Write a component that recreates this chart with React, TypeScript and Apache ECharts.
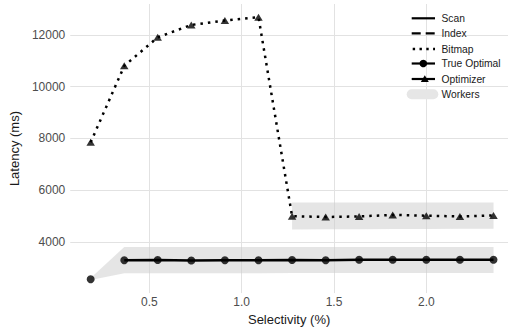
import React, { useEffect, useRef } from "react";
import * as echarts from "echarts";

// Selectivity (%) positions
const selectivity = [0.182, 0.364, 0.545, 0.727, 0.909, 1.091, 1.273, 1.455, 1.636, 1.818, 2.0, 2.182, 2.364];
// True optimal latency (ms)
const trueOptimal = [2570, 3300, 3310, 3290, 3300, 3300, 3310, 3300, 3320, 3320, 3320, 3320, 3320];
// Scan latency (ms) – no scan value at the first selectivity
const scanLatency: (number | null)[] = [null, 3300, 3310, 3290, 3300, 3300, 3310, 3300, 3320, 3320, 3320, 3320, 3320];
// Bitmap latency (ms) = optimizer choice
const bitmapLatency = [7850, 10800, 11900, 12380, 12550, 12680, 5000, 4970, 4990, 5050, 5020, 4990, 5030];
const optimizerLatency = [7850, 10800, 11900, 12380, 12550, 12680, 5000, 4970, 4990, 5050, 5020, 4990, 5030];
// Workers band around scan
const scanBandLow = [2540, 2800, 2800, 2800, 2800, 2800, 2805, 2805, 2805, 2810, 2810, 2810, 2810];
const scanBandHigh = [2620, 3810, 3810, 3810, 3810, 3810, 3810, 3810, 3810, 3810, 3810, 3810, 3810];
// Workers band around bitmap (from selectivity index 6)
const bitmapBandX = [1.273, 1.455, 1.636, 1.818, 2.0, 2.182, 2.364];
const bitmapBandLow = [4490, 4495, 4500, 4505, 4510, 4515, 4520];
const bitmapBandHigh = [5530, 5530, 5530, 5530, 5530, 5530, 5530];

const legendLabels = ["Scan", "Index", "Bitmap", "True Optimal", "Optimizer", "Workers"];

const FONT = "'Liberation Sans', Arial, sans-serif";

export default function App() {
  const ref = useRef<HTMLDivElement>(null);

  useEffect(() => {
    if (!ref.current) return;
    const chart = echarts.init(ref.current, null, { renderer: "svg" });

    const bands = [
      { x: selectivity, lo: scanBandLow, hi: scanBandHigh },
      { x: bitmapBandX, lo: bitmapBandLow, hi: bitmapBandHigh },
    ];

    const scanData = selectivity
      .map((x, i) => [x, scanLatency[i]])
      .filter((p) => p[1] !== null);

    const rowsY = [18.3, 33.3, 49, 63.5, 79, 94.3];
    const keyX1 = 411.7;
    const keyX2 = 435;
    const keyCx = 423.3;
    const textX = 441.5;

    const legendGraphics: any[] = [];
    const solidLine = (y: number) => ({
      type: "line",
      z: 100,
      shape: { x1: keyX1, y1: y, x2: keyX2, y2: y },
      style: { stroke: "#000", lineWidth: 2.2, lineDash: null },
    });
    legendGraphics.push(solidLine(rowsY[0]));
    legendGraphics.push({
      type: "line",
      z: 100,
      shape: { x1: keyX1, y1: rowsY[1], x2: keyX2, y2: rowsY[1] },
      style: { stroke: "#000", lineWidth: 2.2, lineDash: [9, 5] },
    });
    legendGraphics.push({
      type: "line",
      z: 100,
      shape: { x1: keyX1 + 1, y1: rowsY[2], x2: keyX2, y2: rowsY[2] },
      style: { stroke: "#000", lineWidth: 2.4, lineDash: [2.4, 4.4] },
    });
    legendGraphics.push(solidLine(rowsY[3]));
    legendGraphics.push({
      type: "circle",
      z: 101,
      shape: { cx: keyCx, cy: rowsY[3], r: 3.8 },
      style: { fill: "#000" },
    });
    legendGraphics.push(solidLine(rowsY[4]));
    legendGraphics.push({
      type: "polygon",
      z: 101,
      shape: {
        points: [
          [keyCx + 1.5, rowsY[4] - 3.8],
          [keyCx + 1.5 + 4, rowsY[4] + 3],
          [keyCx + 1.5 - 4, rowsY[4] + 3],
        ],
      },
      style: { fill: "#000" },
    });
    legendGraphics.push({
      type: "rect",
      z: 100,
      shape: { x: 406.7, y: rowsY[5] - 5, width: 31.6, height: 10, r: 5 },
      style: { fill: "#e6e6e6" },
    });
    legendLabels.forEach((lab, i) => {
      legendGraphics.push({
        type: "text",
        z: 100,
        x: textX,
        y: rowsY[i],
        style: {
          text: lab,
          fill: "#1a1a1a",
          font: `10.3px ${FONT}`,
          textVerticalAlign: "middle",
          textAlign: "left",
        },
      });
    });

    chart.setOption({
      animation: false,
      backgroundColor: "#ffffff",
      textStyle: { fontFamily: FONT },
      grid: { left: 67, right: 3, top: 4, bottom: 35, containLabel: false },
      xAxis: {
        type: "value",
        min: 0.0715,
        max: 2.4425,
        name: "Selectivity (%)",
        nameLocation: "middle",
        nameGap: 16,
        nameTextStyle: { fontSize: 13, color: "#1a1a1a", fontFamily: FONT, verticalAlign: "top" },
        axisLine: { show: false },
        axisTick: { show: false },
        axisLabel: {
          fontSize: 12,
          color: "#4d4d4d",
          margin: 3,
          showMinLabel: false,
          showMaxLabel: false,
          formatter: (v: number) => v.toFixed(1),
          fontFamily: FONT,
        },
        splitLine: {
          show: true,
          showMinLine: false,
          showMaxLine: false,
          lineStyle: { color: "#e2e2e2", width: 1 },
        },
      },
      yAxis: {
        type: "value",
        min: 2033,
        max: 13187,
        name: "Latency (ms)",
        nameLocation: "middle",
        nameGap: 34,
        nameTextStyle: { fontSize: 13, color: "#1a1a1a", fontFamily: FONT },
        axisLine: { show: false },
        axisTick: { show: false },
        axisLabel: {
          fontSize: 12,
          color: "#4d4d4d",
          margin: 5,
          showMinLabel: false,
          showMaxLabel: false,
          formatter: (v: number) => String(Math.round(v)),
          fontFamily: FONT,
        },
        splitLine: {
          show: true,
          showMinLine: false,
          showMaxLine: false,
          lineStyle: { color: "#e2e2e2", width: 1 },
        },
      },
      graphic: legendGraphics,
      series: [
        {
          type: "custom",
          name: "Workers",
          coordinateSystem: "cartesian2d",
          silent: true,
          z: 1,
          data: [
            [selectivity[0], scanBandLow[0]],
            [bitmapBandX[0], bitmapBandLow[0]],
          ],
          renderItem: (params: any, api: any) => {
            const b = bands[params.dataIndex];
            const pts: number[][] = [];
            for (let i = 0; i < b.x.length; i++) pts.push(api.coord([b.x[i], b.hi[i]]));
            for (let i = b.x.length - 1; i >= 0; i--) pts.push(api.coord([b.x[i], b.lo[i]]));
            return {
              type: "polygon",
              shape: { points: pts },
              style: { fill: "rgba(204,204,204,0.5)" },
            };
          },
        },
        {
          type: "line",
          name: "Scan",
          data: scanData,
          symbol: "none",
          z: 3,
          lineStyle: { color: "#000", width: 2.3, type: "solid" },
        },
        {
          type: "line",
          name: "Bitmap",
          data: selectivity.map((x, i) => [x, bitmapLatency[i]]),
          symbol: "none",
          z: 3,
          lineStyle: { color: "#000", width: 2.5, type: [2.5, 5], cap: "butt" },
        },
        {
          type: "scatter",
          name: "True Optimal",
          data: selectivity.map((x, i) => [x, trueOptimal[i]]),
          symbol: "circle",
          symbolSize: 8,
          z: 4,
          itemStyle: { color: "#000" },
        },
        {
          type: "scatter",
          name: "Optimizer",
          data: selectivity.map((x, i) => [x, optimizerLatency[i]]),
          symbol: "triangle",
          symbolSize: [8.5, 7],
          z: 4,
          itemStyle: { color: "#000" },
        },
      ],
    });

    return () => chart.dispose();
  }, []);

  return (
    <div
      ref={ref}
      style={{ position: "fixed", left: 0, top: 0, width: 511, height: 331 }}
    />
  );
}
